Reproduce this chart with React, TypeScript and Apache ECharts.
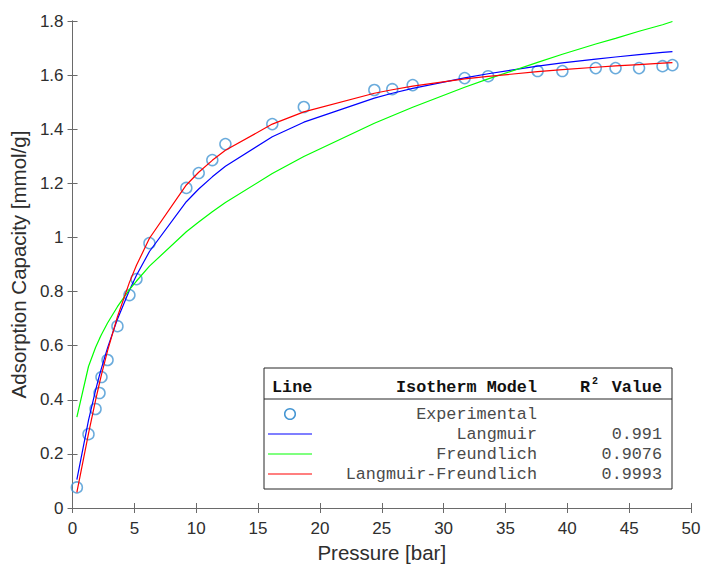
import React, { useEffect, useRef } from "react";
import * as echarts from "echarts";

const pressure = [0.35, 1.29, 1.86, 2.18, 2.34, 2.83, 3.63, 4.6, 5.17, 6.22, 9.2, 10.2, 11.3, 12.36, 16.15, 18.7, 24.4, 25.85, 27.5, 31.7, 33.6, 37.6, 39.6, 42.3, 43.9, 45.8, 47.7, 48.5];
const experimental = [0.076, 0.273, 0.366, 0.425, 0.484, 0.547, 0.672, 0.787, 0.846, 0.979, 1.183, 1.238, 1.286, 1.345, 1.419, 1.482, 1.545, 1.548, 1.563, 1.589, 1.596, 1.615, 1.615, 1.626, 1.626, 1.626, 1.633, 1.637];
const langmuir = [0.105, 0.324, 0.435, 0.491, 0.517, 0.592, 0.698, 0.805, 0.86, 0.948, 1.132, 1.179, 1.224, 1.263, 1.372, 1.426, 1.515, 1.533, 1.551, 1.59, 1.605, 1.633, 1.645, 1.659, 1.667, 1.676, 1.684, 1.687];
const freundlich = [0.336, 0.523, 0.593, 0.626, 0.641, 0.684, 0.744, 0.807, 0.839, 0.894, 1.021, 1.057, 1.095, 1.129, 1.236, 1.299, 1.422, 1.45, 1.481, 1.555, 1.586, 1.647, 1.677, 1.715, 1.736, 1.762, 1.786, 1.798];
const langFreund = [0.058, 0.275, 0.398, 0.462, 0.493, 0.581, 0.707, 0.834, 0.897, 0.997, 1.194, 1.241, 1.285, 1.322, 1.419, 1.464, 1.533, 1.546, 1.559, 1.586, 1.595, 1.613, 1.62, 1.629, 1.634, 1.639, 1.644, 1.646];

const modelNames = ["Experimental", "Langmuir", "Freundlich", "Langmuir-Freundlich"];
const r2Values = ["", "0.991", "0.9076", "0.9993"];
const lineColors = ["", "#0000ff", "#00ff00", "#ff0000"];
const markerColor = "#4596d3";

const pairs = (ys: number[]) => pressure.map((p, i) => [p, ys[i]]);

const axisColor = "#6a6a6a";
const textColor = "#2e2e2e";
const sans = "'Liberation Sans', Arial, Helvetica, sans-serif";
const mono = "'Liberation Mono', 'Courier New', monospace";

export default function App() {
  const ref = useRef<HTMLDivElement>(null);
  useEffect(() => {
    document.body.style.margin = "0";
    const chart = echarts.init(ref.current!, null, { renderer: "svg" });

    const boxL = 264, boxT = 368, boxR = 672, boxB = 489;
    const nameRight = 537, valRight = 662;
    const rowY = [414, 434, 454, 474];
    const legendEls: any[] = [
      { type: "rect", shape: { x: boxL, y: boxT, width: boxR - boxL, height: boxB - boxT }, style: { fill: "#fff", stroke: "#262626", lineWidth: 1 } },
      { type: "line", shape: { x1: boxL, y1: 399, x2: boxR, y2: 399 }, style: { stroke: "#262626", lineWidth: 1 } },
      { type: "text", x: 272, y: 387, style: { text: "Line", font: `bold 16.8px ${mono}`, fill: "#111", textAlign: "left", textVerticalAlign: "middle" } },
      { type: "text", x: nameRight, y: 387, style: { text: "Isotherm Model", font: `bold 16.8px ${mono}`, fill: "#111", textAlign: "right", textVerticalAlign: "middle" } },
      { type: "text", x: 580, y: 387, style: { text: "R", font: `bold 16.8px ${mono}`, fill: "#111", textAlign: "left", textVerticalAlign: "middle" } },
      { type: "text", x: 592, y: 381, style: { text: "2", font: `bold 10px ${mono}`, fill: "#111", textAlign: "left", textVerticalAlign: "middle" } },
      { type: "text", x: valRight, y: 387, style: { text: "Value", font: `bold 16.8px ${mono}`, fill: "#111", textAlign: "right", textVerticalAlign: "middle" } },
    ];
    modelNames.forEach((name, i) => {
      const y = rowY[i];
      if (i === 0) {
        legendEls.push({ type: "circle", shape: { cx: 290, cy: y, r: 5.3 }, style: { fill: "none", stroke: markerColor, lineWidth: 1.5 } });
      } else {
        legendEls.push({ type: "line", shape: { x1: 268, y1: y, x2: 312, y2: y }, style: { stroke: lineColors[i], lineWidth: 1.2 } });
      }
      legendEls.push({ type: "text", x: nameRight, y, style: { text: name, font: `16.8px ${mono}`, fill: "#4a4a4a", textAlign: "right", textVerticalAlign: "middle" } });
      if (r2Values[i]) {
        legendEls.push({ type: "text", x: valRight, y, style: { text: r2Values[i], font: `16.8px ${mono}`, fill: "#4a4a4a", textAlign: "right", textVerticalAlign: "middle" } });
      }
    });

    const tickStyle = { show: true, inside: true, length: 5, lineStyle: { color: axisColor, width: 1 } };
    const lineStyleAxis = { show: true, lineStyle: { color: axisColor, width: 1 } };

    chart.setOption({
      animation: false,
      backgroundColor: "#fff",
      grid: { left: 72, right: 15, top: 21, bottom: 61 },
      xAxis: [
        {
          type: "value", min: 0, max: 50, interval: 5, position: "bottom",
          axisLine: lineStyleAxis, axisTick: tickStyle, splitLine: { show: false },
          axisLabel: { color: textColor, fontSize: 17, fontFamily: sans, margin: 12 },
          name: "Pressure [bar]", nameLocation: "middle", nameGap: 33,
          nameTextStyle: { color: textColor, fontSize: 20.5, fontFamily: sans },
        },
        {
          type: "value", min: 0, max: 50, interval: 5, position: "top",
          axisLine: lineStyleAxis, axisTick: tickStyle, splitLine: { show: false }, axisLabel: { show: false },
        },
      ],
      yAxis: [
        {
          type: "value", min: 0, max: 1.8, interval: 0.2, position: "left",
          axisLine: lineStyleAxis, axisTick: tickStyle, splitLine: { show: false },
          axisLabel: { color: textColor, fontSize: 17, fontFamily: sans, margin: 9 },
          name: "Adsorption Capacity [mmol/g]", nameLocation: "middle", nameGap: 42,
          nameTextStyle: { color: textColor, fontSize: 20.5, fontFamily: sans },
        },
        {
          type: "value", min: 0, max: 1.8, interval: 0.2, position: "right",
          axisLine: lineStyleAxis, axisTick: tickStyle, splitLine: { show: false }, axisLabel: { show: false },
        },
      ],
      series: [
        {
          name: "Experimental", type: "scatter", data: pairs(experimental),
          symbol: "circle", symbolSize: 11,
          itemStyle: { color: "rgba(0,0,0,0)", borderColor: markerColor, borderWidth: 1.5 },
        },
        { name: "Langmuir", type: "line", data: pairs(langmuir), showSymbol: false, lineStyle: { color: lineColors[1], width: 1.2 } },
        { name: "Freundlich", type: "line", data: pairs(freundlich), showSymbol: false, lineStyle: { color: lineColors[2], width: 1.2 } },
        { name: "Langmuir-Freundlich", type: "line", data: pairs(langFreund), showSymbol: false, lineStyle: { color: lineColors[3], width: 1.2 } },
      ],
      graphic: [{ type: "group", z: 100, children: legendEls }],
    });
    return () => chart.dispose();
  }, []);
  return <div ref={ref} style={{ width: 706, height: 569 }} />;
}
